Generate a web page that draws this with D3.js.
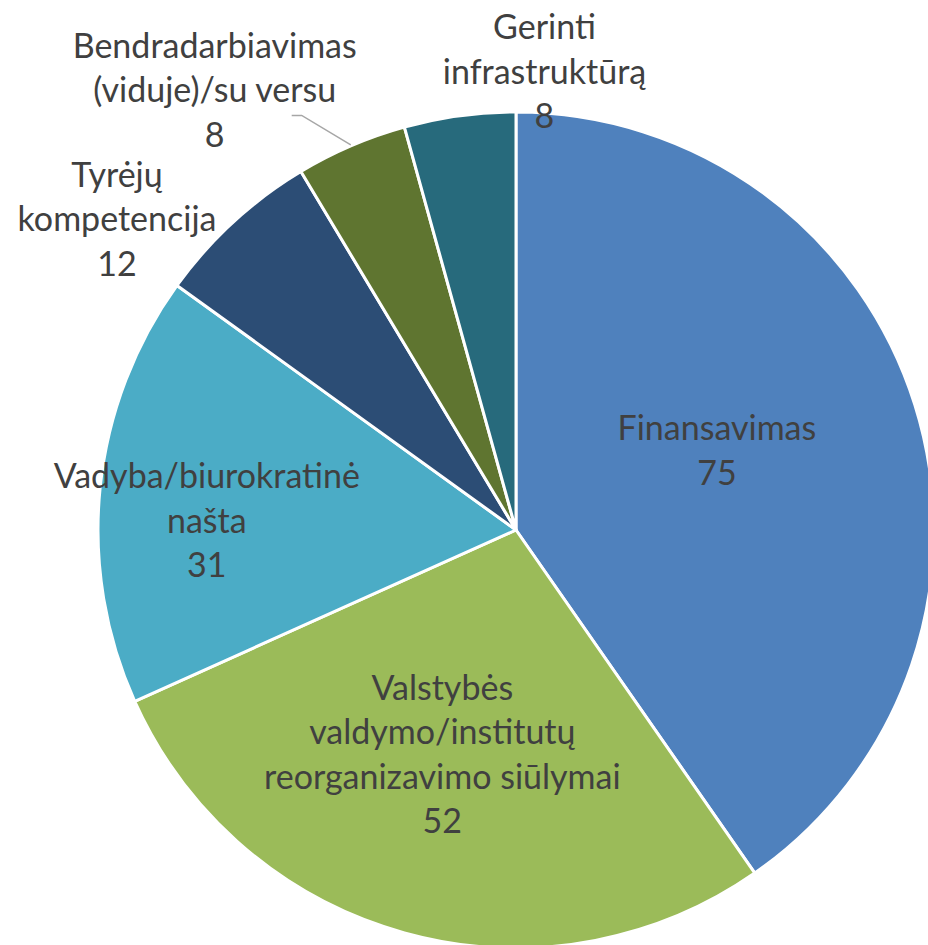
<!DOCTYPE html>
<html>
<head>
<meta charset="utf-8">
<script src="https://cdn.jsdelivr.net/npm/d3@7"></script>
<style>
    html, body { margin: 0; padding: 0; background: #fff; overflow: hidden; }
    svg { display: block; }
    .lbl { font-family: Lato, "Open Sans", sans-serif; font-size: 34px; fill: #404040; }
</style>
</head>
<body>
<svg id="chart" width="928" height="945"></svg>
<script>
(function () {

    // Data (clockwise from 12 o'clock)
    var categories = [
        ["Finansavimas"],
        ["Valstybės", "valdymo/institutų", "reorganizavimo siūlymai"],
        ["Vadyba/biurokratinė", "našta"],
        ["Tyrėjų", "kompetencija"],
        ["Bendradarbiavimas", "(viduje)/su versu"],
        ["Gerinti", "infrastruktūrą"]
    ];
    var values = [75, 52, 31, 12, 8, 8];
    var colors = ["#4F81BD", "#9BBB59", "#4BACC6", "#2C4D75", "#5F7530", "#276A7C"];

    // label placement: [angle shift from slice middle (deg), distance as share of radius]
    var labelPlace = [[-4.2, 0.517], [2.7, 0.565], [-4.1, 0.74], [-9.5, 1.21], [-11.2, 1.275], [11.3, 1.098]];

    var cx = 516, cy = 530, radius = 418;
    var lineHeight = 44.5;

    var svg = d3.select("#chart");
    var g = svg.append("g").attr("transform", "translate(" + cx + "," + cy + ")");

    var data = values.map(function (v, i) {
        return { value: v, lines: categories[i].concat([String(v)]), color: colors[i], place: labelPlace[i] };
    });

    var pie = d3.pie().sort(null).value(function (d) { return d.value; });
    var arcs = pie(data);

    var arc = d3.arc().innerRadius(0).outerRadius(radius);

    g.selectAll("path.slice")
        .data(arcs)
        .enter().append("path")
        .attr("class", "slice")
        .attr("d", arc)
        .attr("fill", function (d) { return d.data.color; })
        .attr("stroke", "#fff")
        .attr("stroke-width", 3)
        .attr("stroke-linejoin", "round");

    function polar(angle, dist) {
        return [Math.sin(angle) * dist, -Math.cos(angle) * dist];
    }

    arcs.forEach(function (a) {
        var mid = (a.startAngle + a.endAngle) / 2;
        var p = polar(mid + a.data.place[0] * Math.PI / 180, a.data.place[1] * radius);
        a.labelX = p[0];
        a.labelY = p[1];
    });

    // leader line for the Bendradarbiavimas label
    var lead = arcs[4];
    var edge = polar((lead.startAngle + lead.endAngle) / 2, radius + 1);
    var elbow = [lead.labelX + 87, lead.labelY + 25];
    g.append("path")
        .attr("d", d3.line()([edge, elbow, [elbow[0] - 10, elbow[1]]]))
        .attr("fill", "none")
        .attr("stroke", "#A6A6A6")
        .attr("stroke-width", 1.5);

    var labels = g.selectAll("text.lbl")
        .data(arcs)
        .enter().append("text")
        .attr("class", "lbl")
        .attr("text-anchor", "middle")
        .attr("x", function (d) { return d.labelX; })
        .attr("y", function (d) { return d.labelY; });

    labels.each(function (d) {
        var n = d.data.lines.length;
        d3.select(this).selectAll("tspan")
            .data(d.data.lines)
            .enter().append("tspan")
            .attr("x", d.labelX)
            .attr("y", function (l, j) { return d.labelY + (j - (n - 1) / 2) * lineHeight + 12; })
            .text(function (l) { return l; });
    });

})();
</script>
</body>
</html>
